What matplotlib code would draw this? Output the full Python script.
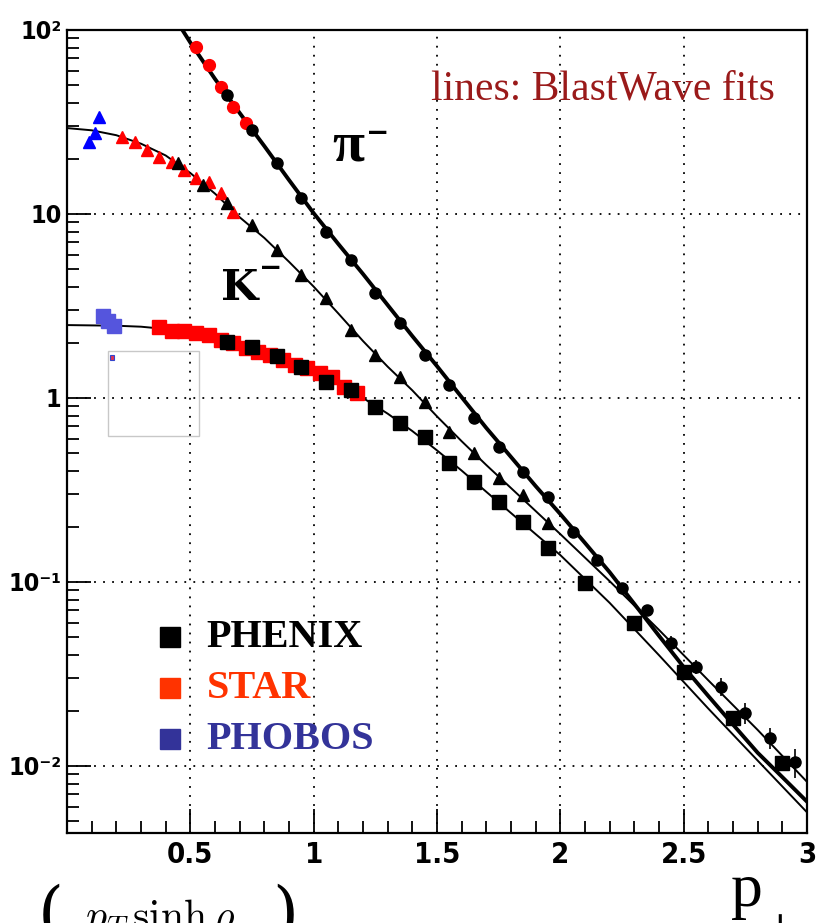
import numpy as np
import matplotlib
matplotlib.use('Agg')
import matplotlib.pyplot as plt
from matplotlib import font_manager
from matplotlib.patches import Rectangle
from matplotlib.ticker import FixedLocator, MultipleLocator, LogLocator, NullFormatter


def pick_font(names):
    for n in names:
        try:
            font_manager.findfont(font_manager.FontProperties(family=n), fallback_to_default=False)
            return n
        except ValueError:
            continue
    return 'DejaVu Sans'


SERIF = pick_font(['Liberation Serif', 'DejaVu Serif'])

# condensed bold face for the tick labels, if one is there
cond = font_manager.findfont(font_manager.FontProperties(family='DejaVu Sans', weight='bold',
                                                         stretch='condensed'))
if 'Condensed' in cond:
    TICK_FAMILY, TICK_STRETCH = 'DejaVu Sans', 'condensed'
else:
    TICK_FAMILY, TICK_STRETCH = 'Liberation Sans', 'normal'

# ── data ────────────────────────────────────────────────────────────────────
# pi-
phenix_pi_x = [0.65, 0.75, 0.85, 0.95, 1.05, 1.15, 1.25, 1.35, 1.45, 1.55, 1.65, 1.75,
               1.85, 1.95, 2.05, 2.15, 2.25, 2.35, 2.45, 2.55, 2.65, 2.75, 2.85, 2.95]
phenix_pi_y = [44.3, 28.6, 18.9, 12.2, 7.98, 5.62, 3.72, 2.56, 1.71, 1.18, 0.778, 0.542,
               0.396, 0.290, 0.187, 0.132, 0.0928, 0.0705, 0.0466, 0.0345, 0.0269, 0.0194,
               0.0142, 0.0105]
phenix_pi_err = [0, 0, 0, 0, 0, 0, 0, 0, 0, 0, 0, 0,
                 0, 0, 0, 0, 0, 0, 0.004, 0.003, 0.003, 0.0025, 0.0018, 0.0019]
star_pi_x = [0.525, 0.575, 0.625, 0.675, 0.725]
star_pi_y = [80.9, 64.5, 49.0, 38.2, 31.2]

# K-
phenix_k_x = [0.45, 0.55, 0.65, 0.75, 0.85, 0.95, 1.05, 1.15, 1.25, 1.35, 1.45, 1.55,
              1.65, 1.75, 1.85, 1.95]
phenix_k_y = [18.9, 14.4, 11.5, 8.71, 6.37, 4.66, 3.50, 2.34, 1.71, 1.30, 0.951, 0.654,
              0.502, 0.367, 0.297, 0.209]
star_k_x = [0.225, 0.275, 0.325, 0.375, 0.425, 0.475, 0.525, 0.575, 0.625, 0.675]
star_k_y = [26.2, 24.6, 22.3, 20.4, 19.2, 17.3, 15.7, 14.9, 13.0, 10.3]
phobos_k_x = [0.09, 0.115, 0.13]
phobos_k_y = [24.6, 27.6, 33.6]

# pbar
phenix_p_x = [0.65, 0.75, 0.85, 0.95, 1.05, 1.15, 1.25, 1.35, 1.45, 1.55, 1.65, 1.75,
              1.85, 1.95, 2.1, 2.3, 2.5, 2.7, 2.9]
phenix_p_y = [2.02, 1.89, 1.69, 1.47, 1.22, 1.11, 0.893, 0.731, 0.614, 0.443, 0.349, 0.272,
              0.212, 0.153, 0.0988, 0.0599, 0.0324, 0.0182, 0.0104]
star_p_x = [0.375, 0.425, 0.475, 0.525, 0.575, 0.625, 0.675, 0.725, 0.775, 0.825, 0.875,
            0.925, 0.975, 1.025, 1.075, 1.125, 1.175]
star_p_y = [2.43, 2.31, 2.31, 2.26, 2.20, 2.07, 1.99, 1.87, 1.78, 1.71, 1.61, 1.51, 1.46,
            1.37, 1.30, 1.15, 1.06]
phobos_p_x = [0.145, 0.165, 0.19]
phobos_p_y = [2.80, 2.62, 2.45]

# BlastWave fit curves
fit_pi_x = [0.46, 0.5, 0.6, 0.7, 0.8, 0.9, 1.0, 1.1, 1.2, 1.3, 1.4, 1.5, 1.6, 1.7, 1.8,
            1.9, 2.0, 2.1, 2.2, 2.3, 2.4, 2.5, 2.6, 2.7, 2.8, 2.9, 3.0]
fit_pi_y = [104, 85.5, 54.2, 35.4, 23.4, 15.3, 10.1, 6.87, 4.72, 3.20, 2.17, 1.49, 1.01,
            0.687, 0.478, 0.332, 0.234, 0.163, 0.113, 0.0760, 0.0510, 0.0345, 0.0240,
            0.0168, 0.0118, 0.0087, 0.0064]
fit_k_x = [0.0, 0.1, 0.2, 0.3, 0.4, 0.5, 0.6, 0.7, 0.8, 0.9, 1.0, 1.1, 1.2, 1.3, 1.4,
           1.5, 1.6, 1.7, 1.8, 1.9, 2.0, 2.2, 2.4, 2.6, 2.8, 3.0]
fit_k_y = [29.3, 28.5, 26.8, 24.1, 20.8, 16.7, 12.9, 9.6, 7.41, 5.50, 4.03, 2.88, 2.04,
           1.48, 1.10, 0.794, 0.582, 0.432, 0.324, 0.243, 0.182, 0.101, 0.0549, 0.0292,
           0.0157, 0.0082]
fit_p_x = [0.0, 0.1, 0.2, 0.3, 0.4, 0.5, 0.6, 0.7, 0.8, 0.9, 1.0, 1.1, 1.2, 1.3, 1.4,
           1.5, 1.6, 1.7, 1.8, 1.9, 2.0, 2.2, 2.4, 2.6, 2.8, 3.0]
fit_p_y = [2.49, 2.48, 2.47, 2.44, 2.37, 2.26, 2.14, 1.97, 1.78, 1.58, 1.38, 1.19, 1.00,
           0.822, 0.661, 0.519, 0.403, 0.309, 0.237, 0.182, 0.140, 0.077, 0.040, 0.0205,
           0.0107, 0.0056]

x_ticks = [0.5, 1.0, 1.5, 2.0, 2.5, 3.0]
x_ticklabels = ['0.5', '1', '1.5', '2', '2.5', '3']
y_ticks = [1e-2, 1e-1, 1, 10, 100]
y_ticklabels = ['10⁻²', '10⁻¹', '1', '10', '10²']

legend_names = ['PHENIX', 'STAR', 'PHOBOS']
legend_colors = ['black', '#FF3300', '#333399']

STAR_RED = '#FF0000'
PHOBOS_BLUE = '#0000FF'
PHOBOS_SQ = '#5555DD'

# ── figure ──────────────────────────────────────────────────────────────────
fig = plt.figure(figsize=(8.21, 9.23), dpi=100)
ax = fig.add_axes([0.0816, 0.0975, 0.9013, 0.870])
ax.set_yscale('log')
ax.set_xlim(0, 3)
ax.set_ylim(0.00432, 100)

# fits
ax.plot(fit_k_x, fit_k_y, color='black', lw=1.4, zorder=2)
ax.plot(fit_p_x, fit_p_y, color='black', lw=1.4, zorder=2)
ax.plot(fit_pi_x, fit_pi_y, color='black', lw=2.8, zorder=2)

# STAR / PHOBOS first, PHENIX on top
ax.plot(star_pi_x, star_pi_y, 'o', color=STAR_RED, ms=8.5, zorder=3)
ax.plot(star_k_x, star_k_y, '^', color=STAR_RED, ms=8, zorder=3)
ax.plot(star_p_x, star_p_y, 's', color=STAR_RED, ms=9.5, zorder=3)
ax.plot(phobos_k_x, phobos_k_y, '^', color=PHOBOS_BLUE, ms=8.5, zorder=3)
ax.plot(phobos_p_x, phobos_p_y, 's', color=PHOBOS_SQ, ms=9.5, zorder=3)

ax.errorbar(phenix_pi_x, phenix_pi_y, yerr=phenix_pi_err, fmt='o', color='black',
            ms=8, elinewidth=1.2, capsize=0, zorder=4)
ax.plot(phenix_k_x, phenix_k_y, '^', color='black', ms=8.5, zorder=4)
ax.plot(phenix_p_x, phenix_p_y, 's', color='black', ms=10, zorder=4)

# axes styling
for sp in ax.spines.values():
    sp.set_linewidth(1.6)
ax.xaxis.set_major_locator(FixedLocator(x_ticks))
ax.xaxis.set_minor_locator(MultipleLocator(0.1))
ax.set_xticks(x_ticks, x_ticklabels)
ax.set_yticks(y_ticks, y_ticklabels)
ax.yaxis.set_minor_locator(LogLocator(base=10, subs=np.arange(2, 10)))
ax.yaxis.set_minor_formatter(NullFormatter())
ax.tick_params(which='major', direction='in', length=17, width=1.3)
ax.tick_params(which='minor', direction='in', length=8.5, width=1.3)
ax.tick_params(axis='x', which='major', pad=6, labelsize=21)
ax.tick_params(axis='y', which='major', pad=4, labelsize=18)
for lab in ax.get_xticklabels() + ax.get_yticklabels():
    lab.set_fontfamily(TICK_FAMILY)
    lab.set_fontweight('bold')
    lab.set_fontstretch(TICK_STRETCH)
ax.grid(True, which='major', color='black', ls=(0, (1, 4)), lw=1.3)

# annotations
ax.text(0.957, 0.913, 'lines: BlastWave fits', transform=ax.transAxes, ha='right',
        va='baseline', fontsize=30, family=SERIF, color='#9A1A1A')
ax.text(0.358, 0.837, 'π', transform=ax.transAxes, ha='left', va='baseline',
        fontsize=42, family=SERIF, fontweight='bold')
ax.text(0.404, 0.862, '−', transform=ax.transAxes, ha='left', va='baseline',
        fontsize=20, family='DejaVu Sans', fontweight='bold')
ax.text(0.208, 0.664, 'K', transform=ax.transAxes, ha='left', va='baseline',
        fontsize=31, family='DejaVu Serif', fontweight='bold')
ax.text(0.260, 0.694, '−', transform=ax.transAxes, ha='left', va='baseline',
        fontsize=20, family='DejaVu Sans', fontweight='bold')

# legend (manual, as in the original)
for i, (name, col) in enumerate(zip(legend_names, legend_colors)):
    yy = 0.244 - i * 0.0635
    ax.plot([0.139], [yy], 's', color=col, ms=14, transform=ax.transAxes, clip_on=False)
    ax.text(0.189, yy, name, transform=ax.transAxes, ha='left', va='center',
            fontsize=29, family=SERIF, fontweight='bold', color=col)

# empty grey box with a tiny icon
ax.add_patch(Rectangle((0.055, 0.495), 0.124, 0.105, transform=ax.transAxes,
                       fill=False, ec='#C8C8C8', lw=1.0, zorder=1))
ax.add_patch(Rectangle((0.058, 0.589), 0.006, 0.006, transform=ax.transAxes,
                       fc='#DD3355', ec='#3344CC', lw=0.8, zorder=1))

# text below the frame (cut by the figure edge, as in the original)
fig.text(731 / 821, 1 - 906 / 923, 'p', ha='left', va='baseline', fontsize=46,
         family=SERIF)
fig.text(762 / 821, 1 - 912 / 923, '⊥', ha='left', va='top', fontsize=28,
         family='DejaVu Serif')
fig.text(38 / 821, 1 - 883 / 923, '(', ha='left', va='top', fontsize=48,
         family='DejaVu Serif')
fig.text(272 / 821, 1 - 883 / 923, ')', ha='left', va='top', fontsize=48,
         family='DejaVu Serif')
fig.text(84 / 821, 1 - 929 / 923, r'$p_T\,\sinh\rho$', ha='left', va='baseline',
         fontsize=30, math_fontfamily='cm')

fig.savefig('out.png', dpi=100)
